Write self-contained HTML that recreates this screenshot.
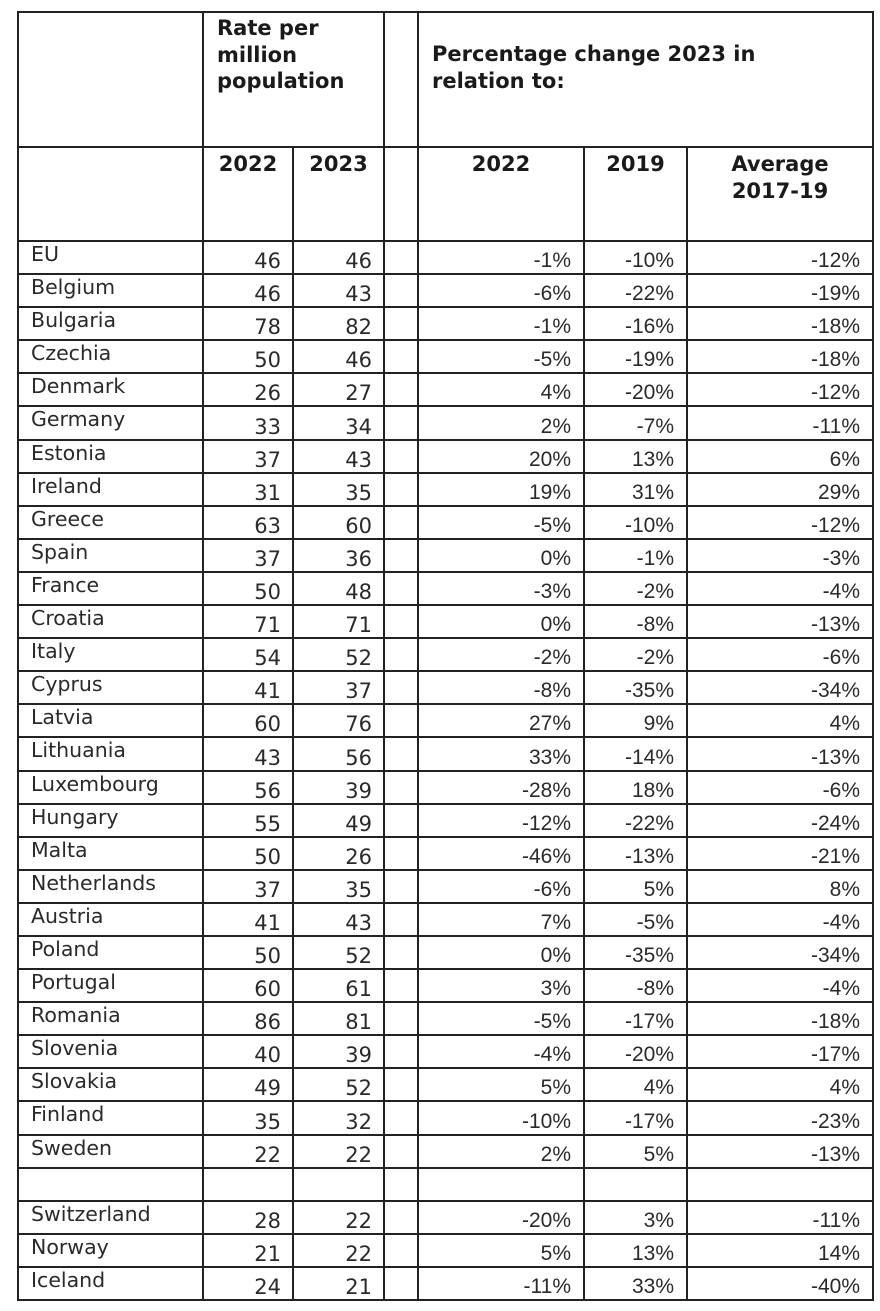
<!DOCTYPE html>
<html><head><meta charset="utf-8"><style>
body{margin:0;background:#fff;width:880px;height:1311px;position:relative;overflow:hidden}
table{position:absolute;left:17px;top:11px;border-collapse:collapse;table-layout:fixed;width:855px;color:#1a1a1a}
td{border:2px solid #222;padding:0;overflow:hidden;white-space:nowrap;box-sizing:border-box}
.h td{font:bold 21px "DejaVu Sans",sans-serif;vertical-align:top;line-height:26.5px}
.h1 td{height:135px}
.h2 td{height:94px}
.d td{height:33.1px;vertical-align:bottom}
.c{font:20.5px "DejaVu Sans",sans-serif;padding-left:12px!important;vertical-align:top!important;line-height:24px;color:#2a2a2a}
.n{font:21px "DejaVu Sans",sans-serif;text-align:right;padding-right:11px!important;line-height:24px;color:#2a2a2a}
.p{font:21px "Liberation Sans",sans-serif;text-align:right;padding-right:12px!important;line-height:25px;color:#2a2a2a}
</style></head><body>
<table>
<colgroup><col style="width:185px"><col style="width:90px"><col style="width:91px"><col style="width:34px"><col style="width:166px"><col style="width:103px"><col style="width:186px"></colgroup>
<tr class="h h1"><td></td><td colspan="2" style="padding:2px 0 0 13px">Rate per<br>million<br>population</td><td></td><td colspan="3" style="padding:28px 0 0 13px">Percentage change 2023 in<br>relation to:</td></tr>
<tr class="h h2"><td></td><td style="text-align:center;padding-top:3px">2022</td><td style="text-align:center;padding-top:3px">2023</td><td></td><td style="text-align:center;padding-top:3px">2022</td><td style="text-align:center;padding-top:3px">2019</td><td style="text-align:center;padding-top:3px">Average<br>2017-19</td></tr>
<tr class="d"><td class="c">EU</td><td class="n">46</td><td class="n">46</td><td></td><td class="p">-1%</td><td class="p">-10%</td><td class="p">-12%</td></tr>
<tr class="d"><td class="c">Belgium</td><td class="n">46</td><td class="n">43</td><td></td><td class="p">-6%</td><td class="p">-22%</td><td class="p">-19%</td></tr>
<tr class="d"><td class="c">Bulgaria</td><td class="n">78</td><td class="n">82</td><td></td><td class="p">-1%</td><td class="p">-16%</td><td class="p">-18%</td></tr>
<tr class="d"><td class="c">Czechia</td><td class="n">50</td><td class="n">46</td><td></td><td class="p">-5%</td><td class="p">-19%</td><td class="p">-18%</td></tr>
<tr class="d"><td class="c">Denmark</td><td class="n">26</td><td class="n">27</td><td></td><td class="p">4%</td><td class="p">-20%</td><td class="p">-12%</td></tr>
<tr class="d"><td class="c">Germany</td><td class="n">33</td><td class="n">34</td><td></td><td class="p">2%</td><td class="p">-7%</td><td class="p">-11%</td></tr>
<tr class="d"><td class="c">Estonia</td><td class="n">37</td><td class="n">43</td><td></td><td class="p">20%</td><td class="p">13%</td><td class="p">6%</td></tr>
<tr class="d"><td class="c">Ireland</td><td class="n">31</td><td class="n">35</td><td></td><td class="p">19%</td><td class="p">31%</td><td class="p">29%</td></tr>
<tr class="d"><td class="c">Greece</td><td class="n">63</td><td class="n">60</td><td></td><td class="p">-5%</td><td class="p">-10%</td><td class="p">-12%</td></tr>
<tr class="d"><td class="c">Spain</td><td class="n">37</td><td class="n">36</td><td></td><td class="p">0%</td><td class="p">-1%</td><td class="p">-3%</td></tr>
<tr class="d"><td class="c">France</td><td class="n">50</td><td class="n">48</td><td></td><td class="p">-3%</td><td class="p">-2%</td><td class="p">-4%</td></tr>
<tr class="d"><td class="c">Croatia</td><td class="n">71</td><td class="n">71</td><td></td><td class="p">0%</td><td class="p">-8%</td><td class="p">-13%</td></tr>
<tr class="d"><td class="c">Italy</td><td class="n">54</td><td class="n">52</td><td></td><td class="p">-2%</td><td class="p">-2%</td><td class="p">-6%</td></tr>
<tr class="d"><td class="c">Cyprus</td><td class="n">41</td><td class="n">37</td><td></td><td class="p">-8%</td><td class="p">-35%</td><td class="p">-34%</td></tr>
<tr class="d"><td class="c">Latvia</td><td class="n">60</td><td class="n">76</td><td></td><td class="p">27%</td><td class="p">9%</td><td class="p">4%</td></tr>
<tr class="d"><td class="c">Lithuania</td><td class="n">43</td><td class="n">56</td><td></td><td class="p">33%</td><td class="p">-14%</td><td class="p">-13%</td></tr>
<tr class="d"><td class="c">Luxembourg</td><td class="n">56</td><td class="n">39</td><td></td><td class="p">-28%</td><td class="p">18%</td><td class="p">-6%</td></tr>
<tr class="d"><td class="c">Hungary</td><td class="n">55</td><td class="n">49</td><td></td><td class="p">-12%</td><td class="p">-22%</td><td class="p">-24%</td></tr>
<tr class="d"><td class="c">Malta</td><td class="n">50</td><td class="n">26</td><td></td><td class="p">-46%</td><td class="p">-13%</td><td class="p">-21%</td></tr>
<tr class="d"><td class="c">Netherlands</td><td class="n">37</td><td class="n">35</td><td></td><td class="p">-6%</td><td class="p">5%</td><td class="p">8%</td></tr>
<tr class="d"><td class="c">Austria</td><td class="n">41</td><td class="n">43</td><td></td><td class="p">7%</td><td class="p">-5%</td><td class="p">-4%</td></tr>
<tr class="d"><td class="c">Poland</td><td class="n">50</td><td class="n">52</td><td></td><td class="p">0%</td><td class="p">-35%</td><td class="p">-34%</td></tr>
<tr class="d"><td class="c">Portugal</td><td class="n">60</td><td class="n">61</td><td></td><td class="p">3%</td><td class="p">-8%</td><td class="p">-4%</td></tr>
<tr class="d"><td class="c">Romania</td><td class="n">86</td><td class="n">81</td><td></td><td class="p">-5%</td><td class="p">-17%</td><td class="p">-18%</td></tr>
<tr class="d"><td class="c">Slovenia</td><td class="n">40</td><td class="n">39</td><td></td><td class="p">-4%</td><td class="p">-20%</td><td class="p">-17%</td></tr>
<tr class="d"><td class="c">Slovakia</td><td class="n">49</td><td class="n">52</td><td></td><td class="p">5%</td><td class="p">4%</td><td class="p">4%</td></tr>
<tr class="d"><td class="c">Finland</td><td class="n">35</td><td class="n">32</td><td></td><td class="p">-10%</td><td class="p">-17%</td><td class="p">-23%</td></tr>
<tr class="d"><td class="c">Sweden</td><td class="n">22</td><td class="n">22</td><td></td><td class="p">2%</td><td class="p">5%</td><td class="p">-13%</td></tr>
<tr class="d"><td class="c"></td><td class="n"></td><td class="n"></td><td></td><td class="p"></td><td class="p"></td><td class="p"></td></tr>
<tr class="d"><td class="c">Switzerland</td><td class="n">28</td><td class="n">22</td><td></td><td class="p">-20%</td><td class="p">3%</td><td class="p">-11%</td></tr>
<tr class="d"><td class="c">Norway</td><td class="n">21</td><td class="n">22</td><td></td><td class="p">5%</td><td class="p">13%</td><td class="p">14%</td></tr>
<tr class="d"><td class="c">Iceland</td><td class="n">24</td><td class="n">21</td><td></td><td class="p">-11%</td><td class="p">33%</td><td class="p">-40%</td></tr>
</table>
</body></html>
